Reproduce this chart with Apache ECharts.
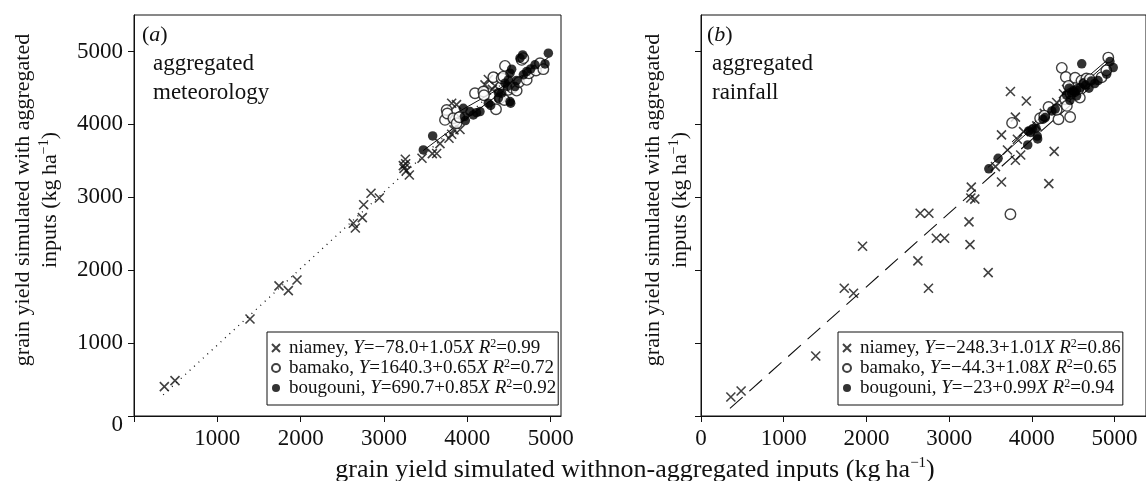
<!DOCTYPE html>
<html>
<head>
<meta charset="utf-8">
<script src="https://cdn.jsdelivr.net/npm/echarts@6/dist/echarts.min.js"></script>
<style>
html,body{margin:0;padding:0;background:#fff;}
#c{width:1146px;height:481px;}
</style>
</head>
<body>
<div id="c"></div>
<script>
// ---------- data (kg/ha) ----------
const xTicks = [0, 1000, 2000, 3000, 4000, 5000];
const xLabelsA = [1000, 2000, 3000, 4000, 5000];
const xLabelsB = [0, 1000, 2000, 3000, 4000, 5000];
const yTicks = [0, 1000, 2000, 3000, 4000, 5000];

// panel (a): aggregated meteorology
const niameyA = [[364,402],[492,485],[1392,1331],[1740,1784],[1852,1720],[1956,1866],[2632,2643],[2656,2579],[2740,2720],[2756,2897],[2844,3055],[2944,2990],[3232,3434],[3256,3522],[3240,3397],[3270,3365],[3304,3306],[3260,3460],[3456,3535],[3580,3598],[3632,3600],[3672,3735],[3780,3810],[3812,3865],[3840,3924],[3912,3930],[3812,4290],[3870,4270],[4212,4541],[4252,4615],[4330,4530],[4392,4650],[4300,4480]];
const bamakoA = [[3732,4061],[3752,4198],[3760,4150],[3832,4084],[3872,4015],[3904,4098],[4092,4427],[4192,4450],[4200,4400],[4312,4646],[4344,4208],[4392,4358],[4412,4633],[4432,4655],[4444,4335],[4452,4802],[4492,4473],[4540,4500],[4592,4463],[4620,4580],[4652,4884],[4672,4908],[4712,4610],[4740,4700],[4824,4738],[4872,4839],[4912,4757]];
const bougouniA = [[3472,3650],[3584,3842],[3952,4221],[3964,4107],[3976,4052],[4032,4175],[4072,4130],[4110,4160],[4152,4175],[4252,4290],[4280,4260],[4372,4436],[4372,4358],[4412,4427],[4452,4565],[4480,4520],[4492,4610],[4512,4702],[4512,4312],[4520,4290],[4532,4757],[4572,4518],[4590,4600],[4632,4908],[4664,4953],[4672,4680],[4712,4724],[4760,4760],[4812,4816],[4932,4829],[4972,4976]];
const fitNiameyA = [[350,290],[4550,4700]];
const fitBamakoA = [[3730,4065],[4920,4840]];
const fitBougouniA = [[3470,3640],[4970,4915]];

// panel (b): aggregated rainfall
const niameyB = [[361,261],[485,343],[1387,823],[1732,1752],[1844,1683],[1953,2328],[2622,2127],[2650,2781],[2755,2781],[2750,1752],[2845,2438],[2945,2438],[3240,2662],[3252,2351],[3268,3140],[3262,2990],[3310,2975],[3472,1966],[3633,3210],[3633,3855],[3705,3649],[3741,4450],[3801,4100],[3801,3508],[3825,3796],[3865,3580],[3933,4320],[4205,3187],[4270,3630],[4382,4420],[4420,4480],[4480,4540],[3560,3420],[3900,3900],[4060,3980],[4150,4150],[4300,4300]];
const bamakoB = [[3741,2767],[3761,4020],[4100,4084],[4202,4239],[4322,4070],[4362,4775],[4411,4650],[4443,4528],[4463,4102],[4523,4640],[4600,4600],[4660,4630],[4843,4645],[4580,4367],[4403,4345],[4423,4253],[4924,4916],[4470,4420],[4560,4480],[4640,4560],[4700,4620],[4900,4740],[4150,4120],[4300,4200]];
const bougouniB = [[3480,3390],[3592,3535],[3950,3718],[3962,3910],[3985,3890],[4005,3935],[4050,3947],[4065,3840],[4070,3800],[4135,4070],[4162,4093],[4242,4185],[4283,4210],[4420,4400],[4450,4496],[4480,4430],[4500,4460],[4520,4440],[4540,4470],[4585,4505],[4620,4560],[4650,4540],[4690,4496],[4720,4595],[4603,4830],[4760,4560],[4800,4600],[4904,4688],[4944,4861],[4984,4779],[4460,4330],[4540,4390]];
const fitNiameyB = [[350,105],[4700,4500]];
const fitBamakoB = [[3760,3760],[4930,4900]];
const fitBougouniB = [[3470,3410],[4975,4905]];

const legendA = {
  niamey:   '{t|niamey, }{i|Y}{t|=−78.0+1.05}{i|X R}{s|2}{t|=0.99}',
  bamako:   '{t|bamako, }{i|Y}{t|=1640.3+0.65}{i|X R}{s|2}{t|=0.72}',
  bougouni: '{t|bougouni, }{i|Y}{t|=690.7+0.85}{i|X R}{s|2}{t|=0.92}'
};
const legendB = {
  niamey:   '{t|niamey, }{i|Y}{t|=−248.3+1.01}{i|X R}{s|2}{t|=0.86}',
  bamako:   '{t|bamako, }{i|Y}{t|=−44.3+1.08}{i|X R}{s|2}{t|=0.65}',
  bougouni: '{t|bougouni, }{i|Y}{t|=−23+0.99}{i|X R}{s|2}{t|=0.94}'
};

// ---------- styling ----------
const FONT = '"Liberation Serif", "DejaVu Serif", serif';
const INK = '#111';
const crossPath = 'path://M0,0L10,10M10,0L0,10';

const richBase = (fs) => ({
  t: {fontFamily: FONT, fontSize: fs, color: INK, lineHeight: fs + 1},
  i: {fontFamily: FONT, fontSize: fs, color: INK, fontStyle: 'italic', lineHeight: fs + 1},
  s: {fontFamily: FONT, fontSize: Math.round(fs * 0.62), color: INK, verticalAlign: 'top', lineHeight: fs + 1}
});

function xAxis(gridIndex, labels, max) {
  return {
    type: 'value', gridIndex, min: 0, max,
    axisLine: {show: true, onZero: false, lineStyle: {color: INK, width: 1}},
    axisTick: {show: true, customValues: xTicks, length: 6, inside: false, lineStyle: {color: INK}},
    axisLabel: {show: true, customValues: labels, margin: 11, fontFamily: FONT, fontSize: 23, color: INK,
      formatter: (v) => String(v)},
    splitLine: {show: false}
  };
}
function yAxis(gridIndex, showLabels) {
  return {
    type: 'value', gridIndex, min: 0, max: 5500,
    axisLine: {show: true, onZero: false, lineStyle: {color: INK, width: 1}},
    axisTick: {show: true, customValues: yTicks, length: 6, lineStyle: {color: INK}},
    axisLabel: {
      show: showLabels, customValues: yTicks, margin: 11, fontFamily: FONT, fontSize: 23, color: INK,
      formatter: (v) => v === 0 ? '{z|0}' : String(v),
      rich: {z: {fontFamily: FONT, fontSize: 23, color: INK, padding: [18, 0, 0, 0]}}
    },
    splitLine: {show: false}
  };
}

function pts(name, data, gi, kind) {
  const s = {
    type: 'scatter', name, data, xAxisIndex: gi, yAxisIndex: gi, z: 3,
    emphasis: {disabled: true}, silent: true, animation: false
  };
  if (kind === 'cross') {
    s.symbol = crossPath; s.symbolSize = 9;
    s.itemStyle = {color: 'rgba(0,0,0,0)', borderColor: INK, borderWidth: 1.6};
  } else if (kind === 'open') {
    s.symbol = 'circle'; s.symbolSize = 10.5;
    s.itemStyle = {color: '#fff', borderColor: INK, borderWidth: 1.4};
  } else {
    s.symbol = 'circle'; s.symbolSize = 9.5;
    s.itemStyle = {color: '#000', borderColor: '#000', borderWidth: 0};
  }
  return s;
}
function fit(data, gi, type, width) {
  return {
    type: 'line', data, xAxisIndex: gi, yAxisIndex: gi, z: 2,
    showSymbol: false, symbol: 'none', silent: true, animation: false,
    lineStyle: {color: INK, width: width || 1, type}
  };
}
function legend(left, map) {
  return {
    orient: 'vertical', left, top: 332,
    data: ['niamey', 'bamako', 'bougouni'],
    itemWidth: 16, itemHeight: 8, itemGap: 0,
    borderColor: INK, borderWidth: 1, padding: [6, 2, 7, 4],
    backgroundColor: '#fff', selectedMode: false,
    formatter: (n) => map[n],
    textStyle: {fontFamily: FONT, fontSize: 19, color: INK, lineHeight: 20, rich: richBase(19)}
  };
}

function txt(x, y, text, fs, extra) {
  return {
    type: 'text', x, y, silent: true,
    style: Object.assign({text, fontFamily: FONT, fontSize: fs, fill: INK, rich: richBase(fs)}, extra || {})
  };
}
function yTitle(x) {
  return {
    type: 'text', x, y: 200, rotation: Math.PI / 2, silent: true,
    style: {
      text: '{t|grain yield simulated with aggregated}\n{t|inputs (kg\u2009ha}{s|−1}{t|)}',
      align: 'center', verticalAlign: 'middle', fontFamily: FONT, fontSize: 22, fill: INK,
      rich: {
        t: {fontFamily: FONT, fontSize: 22, color: INK, lineHeight: 27, align: 'center'},
        s: {fontFamily: FONT, fontSize: 14, color: INK, lineHeight: 27, verticalAlign: 'top'}
      }
    }
  };
}

const chart = echarts.init(document.getElementById('c'), null, {renderer: 'canvas'});
chart.setOption({
  animation: false,
  backgroundColor: '#fff',
  grid: [
    {left: 134, top: 15, width: 427, height: 401, show: true, borderColor: INK, borderWidth: 1, backgroundColor: 'transparent'},
    {left: 701, top: 15, width: 447, height: 401, show: true, borderColor: INK, borderWidth: 1, backgroundColor: 'transparent'}
  ],
  xAxis: [xAxis(0, xLabelsA, 5124), xAxis(1, xLabelsB, 5380)],
  yAxis: [yAxis(0, true), yAxis(1, false)],
  legend: [legend(267, legendA), legend(838, legendB)],
  series: [
    fit(fitNiameyA, 0, [1, 5], 1.3),
    fit(fitBamakoA, 0, 'solid'),
    fit(fitBougouniA, 0, 'solid'),
    pts('niamey', niameyA, 0, 'cross'),
    pts('bamako', bamakoA, 0, 'open'),
    pts('bougouni', bougouniA, 0, 'filled'),
    fit(fitNiameyB, 1, [17, 9], 1.1),
    fit(fitBamakoB, 1, 'solid'),
    fit(fitBougouniB, 1, 'solid'),
    pts('niamey', niameyB, 1, 'cross'),
    pts('bamako', bamakoB, 1, 'open'),
    pts('bougouni', bougouniB, 1, 'filled')
  ],
  graphic: [
    txt(142, 24, '{t|(}{i|a}{t|)}', 22),
    txt(153, 49, 'aggregated\nmeteorology', 23, {lineHeight: 29}),
    txt(707, 24, '{t|(}{i|b}{t|)}', 22),
    txt(712, 49, 'aggregated\nrainfall', 23, {lineHeight: 29}),
    yTitle(37),
    yTitle(667),
    {
      type: 'text', x: 635, y: 470, silent: true,
      style: {
        text: '{t|grain yield simulated withnon-aggregated inputs (kg\u2009ha}{s|−1}{t|)}',
        align: 'center', verticalAlign: 'middle', fontFamily: FONT, fontSize: 26, fill: INK,
        rich: {
          t: {fontFamily: FONT, fontSize: 26, color: INK, lineHeight: 28},
          s: {fontFamily: FONT, fontSize: 15, color: INK, lineHeight: 28, verticalAlign: 'top'}
        }
      }
    }
  ]
});
</script>
</body>
</html>
